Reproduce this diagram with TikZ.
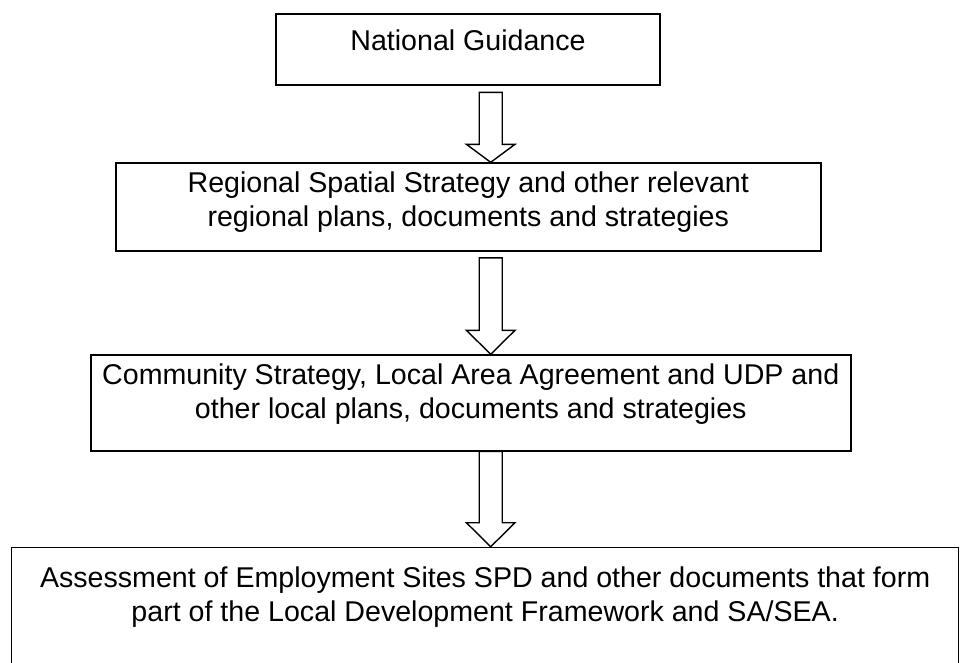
\documentclass[tikz,border=0pt]{standalone}
\usepackage{fontspec}
\setmainfont{Liberation Sans}
\usetikzlibrary{calc}

\tikzset{
  box/.style={draw, line width=1.5pt, anchor=north west, inner sep=0pt},
  boxtext/.style={align=center, anchor=north, inner sep=0pt, font=\fontsize{28.6}{34}\selectfont},
  blockarrow/.style={draw, line width=1.4pt, fill=white, line join=miter},
}

% hollow block arrow: from, to, gap below source, head length
\newcommand{\hollowarrow}[4]{%
  \draw[blockarrow] ($(#1.south -| axis)+(-11.5,#3)$) -- ($(#2.north -| axis)+(-11.5,-#4)$)
    -- ($(#2.north -| axis)+(-24.3,-#4)$) -- (#2.north -| axis)
    -- ($(#2.north -| axis)+(24.3,-#4)$) -- ($(#2.north -| axis)+(11.5,-#4)$)
    -- ($(#1.south -| axis)+(11.5,#3)$) -- cycle;}

\begin{document}
\begin{tikzpicture}[x=1pt, y=-1pt]
\useasboundingbox (0,0) rectangle (961,662);
\clip (0,0) rectangle (961,662);
\coordinate (axis) at (490.7,0);

\node[box, line width=2pt, minimum width=384pt, minimum height=71.6pt,
  label={[boxtext, yshift=-17pt]north:{National Guidance}}] (national) at (275,12.7) {};
\node[box, minimum width=705pt, minimum height=88pt,
  label={[boxtext, yshift=-9pt]north:{Regional Spatial Strategy and other relevant\\regional plans, documents and strategies}}] (regional) at (115,162.3) {};
\node[box, minimum width=760pt, minimum height=95.7pt,
  label={[boxtext, yshift=-9pt]north:{Community Strategy, Local Area Agreement and UDP and\\other local plans, documents and strategies}}] (community) at (90,354.3) {};
\node[box, line width=1.3pt, minimum width=947pt, minimum height=200pt,
  label={[boxtext, yshift=-20pt]north:{Assessment of Employment Sites SPD and other documents that form\\part of the Local Development Framework and SA/SEA.}}] (assessment) at (11,546.7) {};

\hollowarrow{national}{regional}{6}{18}
\hollowarrow{regional}{community}{6}{24}
\hollowarrow{community}{assessment}{0}{24}
\end{tikzpicture}
\end{document}
